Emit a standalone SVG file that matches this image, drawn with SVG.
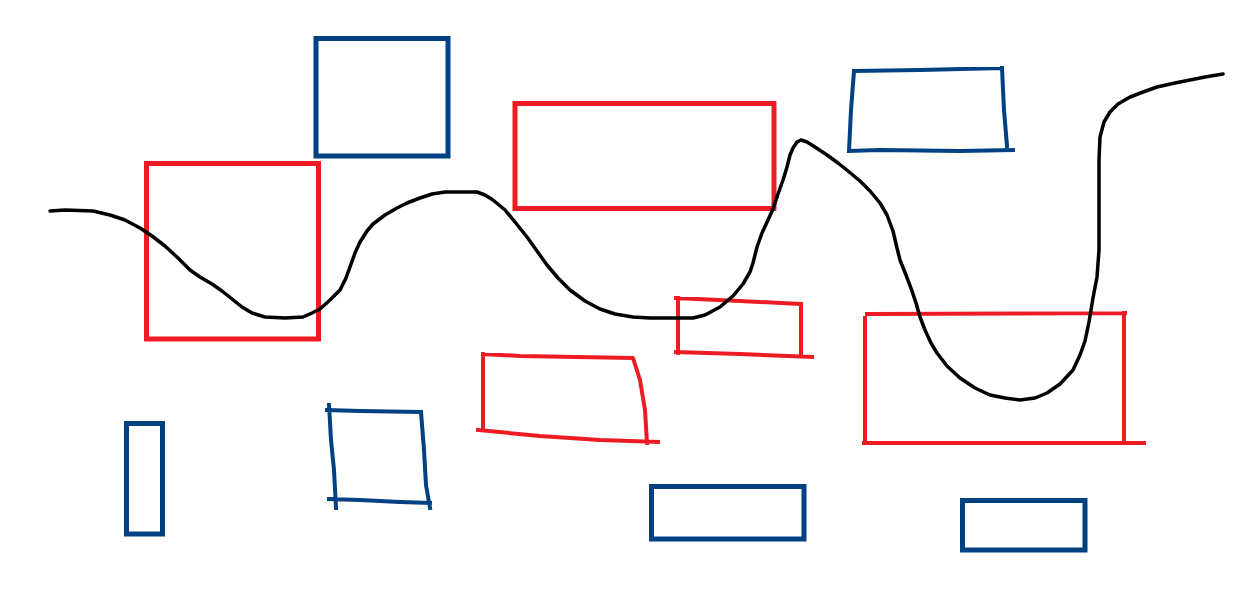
<svg xmlns="http://www.w3.org/2000/svg" width="1247" height="607" viewBox="0 0 1247 607">
<style>
.red{fill:none;stroke:#ED1C24;stroke-width:5}
.redh{fill:none;stroke:#ED1C24;stroke-width:4;stroke-linejoin:round;stroke-linecap:square}
.blue{fill:none;stroke:#004182;stroke-width:5}
.blueh{fill:none;stroke:#004182;stroke-width:4;stroke-linejoin:round;stroke-linecap:square}
.curve{fill:none;stroke:#000;stroke-width:3.5;stroke-linejoin:round;stroke-linecap:round}
</style>
<rect x="0" y="0" width="1247" height="607" fill="#fff"/>
<g id="blue-square-top"><rect class="blue" x="316" y="38.5" width="132" height="117.5"/></g>
<g id="red-box-left"><rect class="red" x="146.5" y="163.5" width="172" height="175.5"/></g>
<g id="red-box-top"><rect class="red" x="515" y="103.5" width="259" height="105"/></g>
<g id="blue-box-topright"><path class="blueh" d="M854,71 L920,70 L1002,68 M854,71 L851,110 L849,151 M1002,68 L1004,110 L1007,146 M849,151 L880,150 L960,151 L1013,150"/></g>
<g id="red-box-small"><path class="redh" d="M676,298 L740,301 L801,304 M678,298 L678,353 M801,304 L801,356 M676,352 L740,354 L812,357"/></g>
<g id="red-box-bottomright"><path class="redh" d="M867,314 L1125,313 M865,318 L865,443 M1124,313 L1124,441 M864,443 L1144,443"/></g>
<g id="red-trapezoid"><path class="redh" d="M483,354 L520,356 L633,358 L640,380 L645,410 L647,443 M483,354 L483,430 M478,430 L540,436 L600,440 L658,442"/></g>
<g id="blue-box-mid"><path class="blueh" d="M327,410 L360,411 L420,412 M329,405 L331,440 L334,470 L336,508 M421,412 L424,450 L426,485 L430,508 M329,499 L360,500 L400,502 L430,503"/></g>
<g id="blue-tall"><rect class="blue" x="126.5" y="423.5" width="36" height="110.5"/></g>
<g id="blue-box-bottom1"><rect class="blue" x="651.5" y="486.5" width="152.5" height="52.5"/></g>
<g id="blue-box-bottom2"><rect class="blue" x="962.5" y="500.5" width="122.5" height="49.5"/></g>
<g id="connectors">
<polyline class="curve" points="50,211 65,210 93,211 110,215 125,220 140,228 152,236 165,246 178,258 190,270 200,277 212,284 222,291 232,299 242,307 252,313 265,317 285,318 303,317 312,313 320,309 330,300 340,290 346,278 350,267 355,253 360,242 367,231 373,224 385,215 397,208 407,203 420,198 432,194 445,192 460,192 477,192 485,195 493,200 505,210 515,222 527,237 537,251 547,265 558,278 570,290 585,301 600,309 615,314 633,317 650,318 670,318 693,318 705,315 720,307 733,296 743,284 750,272 753,263 757,247 762,233 768,220 773,209 778,194 783,180 787,167 790,155 793,148 797,142 801,140 807,142 815,147 827,155 838,163 848,171 860,181 870,191 880,203 887,215 893,231 897,248 900,260 906,275 912,291 916,303 920,317 925,330 931,343 937,353 947,366 960,378 975,388 990,395 1005,398 1020,400 1035,398 1047,393 1060,384 1073,370 1080,355 1085,341 1089,322 1093,298 1097,277 1099,250 1099,220 1099,193 1099,160 1100,137 1104,122 1110,112 1118,104 1130,97 1143,92 1157,87 1175,83 1190,80 1205,77 1223,74"/>
</g>
</svg>
